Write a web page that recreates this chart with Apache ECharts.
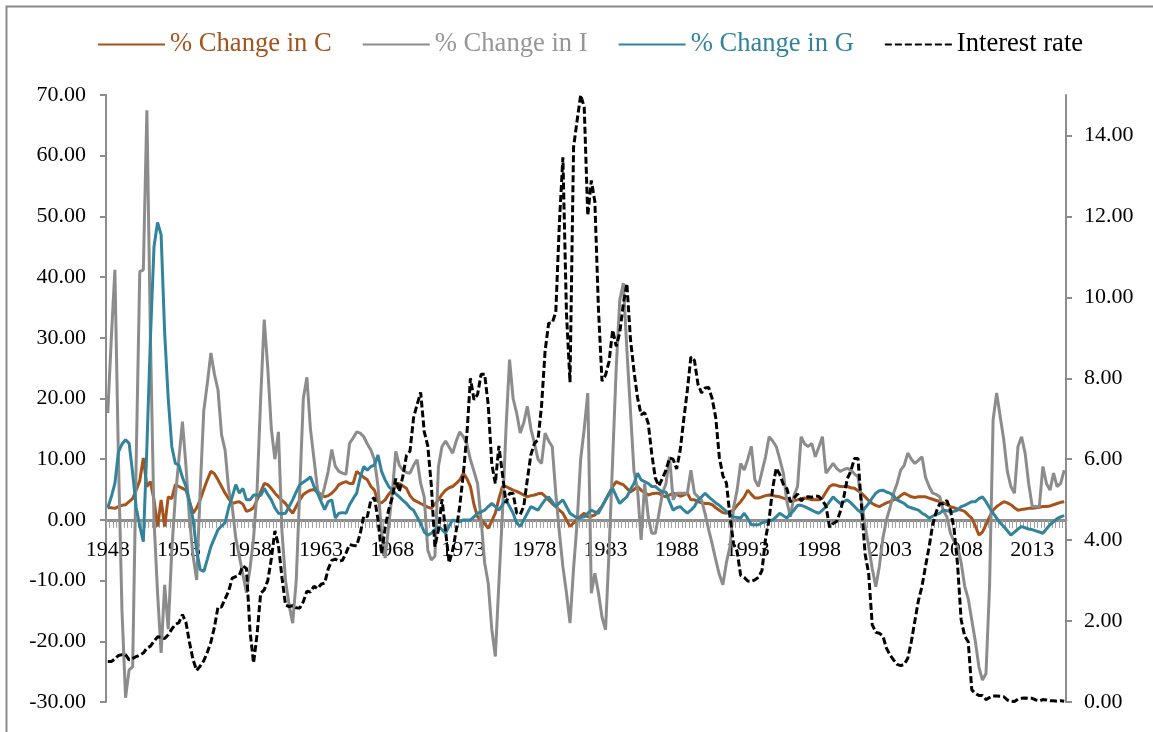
<!DOCTYPE html>
<html>
<head>
<meta charset="utf-8">
<script src="https://cdn.jsdelivr.net/npm/echarts@6/dist/echarts.min.js"></script>
<style>
html,body{margin:0;padding:0;background:#fff;}
#chart{width:1153px;height:732px;}
</style>
</head>
<body>
<div id="chart"></div>
<script>
const startYear = 1948;
const nQuarters = 270;
const tickYears = ['1948','1953','1958','1963','1968','1973','1978','1983','1988','1993','1998','2003','2008','2013'];
const leftRange = [-30, 70, 10];
const rightRange = [0, 15, 2];

const changeC = [
2.0,2.0,1.9,2.2,2.4,2.5,3.0,3.5,4.9,6.5,10.2,5.5,6.3,3.3,-1.1,3.3,-1.1,3.8,3.5,5.8,
5.5,5.2,4.9,3.0,1.1,2.0,3.3,5.0,6.6,8.0,7.6,6.6,5.5,4.4,3.5,2.7,2.9,3.0,2.6,1.4,
1.6,2.0,3.3,4.6,6.0,5.8,5.2,4.4,3.8,3.2,2.7,1.8,1.1,2.2,3.3,4.2,4.6,4.9,5.0,4.6,
4.2,3.8,4.0,4.4,5.0,5.8,6.1,6.3,6.0,6.0,8.0,7.5,7.0,6.6,5.5,4.9,3.0,2.8,3.3,4.2,
4.9,5.5,6.0,5.6,5.2,4.0,3.3,3.0,2.7,2.4,2.1,1.9,2.6,3.3,4.2,4.9,5.3,5.5,6.0,6.6,
7.7,6.8,5.5,2.5,0.5,0.0,-0.6,-1.4,-0.2,1.1,3.5,5.5,5.5,5.2,4.9,4.7,4.4,4.1,3.8,4.0,
4.1,4.3,4.4,3.9,3.3,2.7,2.2,1.6,1.1,0.0,-1.1,-0.5,0.0,0.6,1.1,0.5,0.6,0.8,1.5,2.2,
3.3,4.4,5.5,6.3,6.0,5.8,5.2,4.6,5.0,5.5,4.9,4.5,4.1,4.3,4.4,4.4,4.0,3.8,4.1,4.4,
4.2,3.9,4.1,4.4,3.3,3.3,3.0,2.8,2.7,2.7,2.5,2.0,1.6,1.2,1.1,1.4,1.6,2.4,3.0,3.8,
4.9,4.2,3.6,3.6,3.8,4.0,4.1,4.0,3.9,3.8,3.6,3.4,3.0,3.2,3.3,3.5,3.6,3.5,3.3,3.3,
3.3,3.6,4.6,5.5,5.8,5.7,5.5,5.5,5.5,5.3,5.2,4.8,4.4,3.8,3.2,2.7,2.4,2.2,2.5,2.8,
3.0,3.3,3.5,4.0,4.4,4.1,3.8,3.7,3.8,3.8,3.8,3.6,3.4,3.2,3.0,2.8,2.5,2.2,2.0,1.8,
1.6,1.4,0.8,0.3,-1.0,-2.5,-2.0,-0.8,0.5,1.6,2.2,2.6,3.0,2.8,2.5,2.0,1.6,1.7,1.8,1.9,
1.9,2.0,2.1,2.2,2.2,2.3,2.5,2.7,2.9,3.0
];

const changeI = [
17.6,30,41.2,10,-15,-29.3,-24.7,-24.2,10,40.9,41.2,67.5,30,0,-12,-21.9,-10.7,-18,-5,3.8,
10,16.2,8.8,0,-6,-9.9,5,18,22.5,27.5,24,21.4,14,11.5,5,2.2,-3,-6,-9,-12,
-8,-3,5,20,33,25,15,10,14.5,-2,-10,-14,-17,-10,5,20,23.5,15,10,5,
3.3,5.5,8,11.6,8.8,8,7.7,7.5,12.6,13.5,14.5,14.3,13.7,12.5,11.5,9.9,5.5,-2,-6.3,-1,
4.4,11.3,9,8.2,7.8,7.7,9,9.9,6,3.8,-5,-6.6,-6,8.8,12.1,13,12,11,13,14.5,
13.7,12.5,9.9,8,6,0,-7.1,-10.4,-18,-22.5,-10.4,1.1,15,26.4,20,17.6,14.3,16,18.7,15,
12.6,10,9.3,14.3,13,12.1,4.4,-2,-7.7,-12,-17,-8,-0.5,10,15,20.9,-12.1,-8.8,-12,-16,
-18.1,-5,10,25,36.2,39,28,18,8,5,-3.3,6,0.5,-2.2,-2.2,1,4.4,6,10.4,3.3,
4.4,4.4,4.4,4.4,8.2,4.4,3.8,3.3,1,-1.6,-4,-6.6,-9,-10.7,-7,-4.4,2,4.9,9.3,8.2,
10,12.1,6.6,5.5,8,10.4,13.7,13,12.1,10,7.7,3,0.5,4,5.5,13.7,12.5,12.1,12.6,10.4,
12,13.7,7.7,8.5,9.3,8.5,8.0,8.3,8.5,8.2,7.6,7.1,3,-1,-4.4,-8,-11,-7.7,-3,0,
2,4.4,6,8.2,9,11,10,9.3,9.8,10.4,7,5.5,4.4,4.2,3.8,1.5,0.5,-2.2,-3.5,-4.4,
-7,-10.9,-13,-16.5,-20,-24.2,-26.4,-25.3,-10.9,16.5,20.9,17,13.2,8,5.5,4.4,12.1,13.7,11,6,
2.2,2.2,2.2,8.8,6,4.9,7.7,5.5,6,8.2
];

const changeG = [
2.0,3.8,6.0,11.2,12.5,13.2,12.6,7.7,2.0,-1.0,-3.6,12.0,30.0,45.0,49.0,47.0,30.8,20.0,12.1,9.3,
9.0,7.0,5.5,3.0,0.0,-5.0,-8.2,-8.5,-6.5,-4.4,-3.0,-1.6,-1.0,-0.5,2.0,3.8,5.8,4.4,5.2,3.3,
3.3,4.1,4.1,4.0,5.2,4.2,3.3,2.0,1.1,1.0,1.1,2.2,3.3,4.6,5.8,6.2,6.6,7.1,5.5,4.4,
3.0,1.7,3.0,3.3,0.3,1.1,1.2,1.1,2.5,3.5,4.4,7.0,8.8,8.2,8.8,9.0,10.7,8.0,6.6,5.5,
4.9,4.3,3.8,3.2,2.7,2.0,1.6,0.5,-0.6,-2.0,-2.5,-2.2,-1.6,-1.1,-1.6,-2.2,-1.0,0.0,-0.2,-0.3,
0.0,0.0,0.0,0.5,1.1,1.3,1.6,2.2,2.7,2.2,1.6,2.5,3.3,2.2,1.1,-0.5,-1.1,0.0,1.1,2.2,
1.9,1.6,2.5,3.3,3.8,3.0,2.2,2.8,3.3,2.2,1.1,0.7,0.3,0.4,0.5,1.1,1.6,1.3,1.1,2.2,
3.3,4.3,5.2,3.9,2.7,3.3,3.8,5.0,6.0,7.7,6.6,6.3,6.0,5.5,5.5,5.0,4.6,4.6,3.0,1.6,
2.0,2.2,1.6,1.1,1.6,2.2,3.3,3.8,4.4,3.8,3.3,2.8,2.4,1.9,1.4,0.9,0.5,0.4,0.3,1.1,
0.2,-0.8,-0.8,-0.8,-0.5,-0.3,-0.1,0.0,0.5,1.1,0.7,0.3,1.0,1.6,2.4,2.4,2.2,1.9,1.6,1.3,
1.1,1.6,2.2,3.0,3.8,3.2,2.7,3.0,3.3,2.8,2.2,1.6,1.1,2.0,2.7,3.6,4.4,4.8,4.9,4.6,
4.4,4.0,3.3,3.0,2.7,2.2,2.0,1.8,1.6,1.1,0.8,0.3,0.6,0.9,1.1,1.6,1.5,1.4,1.4,1.6,
2.2,2.4,2.7,3.0,3.0,3.5,3.8,3.0,2.0,1.1,0.3,-0.5,-1.1,-1.8,-2.5,-2.0,-1.5,-1.1,-1.3,-1.5,
-1.6,-1.8,-2.0,-2.2,-1.5,-0.8,-0.3,0.2,0.5,0.7
];

const interestRate = [
1.00,1.00,1.06,1.15, 1.17,1.17,1.04,1.08, 1.12,1.16,1.21,1.33, 1.38,1.50,1.61,1.60,
1.57,1.66,1.80,1.92, 1.96,2.16,1.96,1.46, 1.04,0.78,0.89,1.02, 1.23,1.48,1.85,2.35,
2.35,2.55,2.74,3.06, 3.10,3.14,3.36,3.30, 1.76,0.96,1.68,2.69, 2.77,3.00,3.54,4.23,
3.87,3.07,2.39,2.36, 2.38,2.33,2.32,2.48, 2.74,2.72,2.86,2.80, 2.91,2.94,3.29,3.50,
3.53,3.48,3.50,3.68, 3.89,3.87,3.86,4.16, 4.60,4.58,4.99,5.05, 4.51,3.66,4.30,4.75,
5.05,5.52,5.20,5.58, 6.09,6.20,7.02,7.35, 7.65,6.68,6.33,5.35, 3.84,4.25,5.01,4.23,
3.44,3.75,4.24,4.85, 5.64,6.61,8.00,7.47, 7.60,8.10,8.10,7.34, 5.88,5.40,6.33,5.63,
4.92,5.16,5.15,4.67, 4.63,4.84,5.50,6.11, 6.39,6.48,7.32,8.68, 9.36,9.37,9.63,11.80,
13.46,9.62,7.90,13.71, 14.37,15.00,14.70,12.02, 12.89,12.36,9.71,7.93, 8.08,8.42,9.19,8.79,
9.13,9.84,10.34,8.97, 8.18,7.52,7.10,7.15, 6.89,6.13,5.53,5.34, 5.53,5.73,6.03,6.00,
5.76,6.23,6.99,7.70, 8.53,8.44,7.85,7.64, 7.76,7.77,7.49,7.02, 6.05,5.59,5.41,4.58,
3.91,3.72,3.13,3.08, 2.99,2.98,3.02,3.08, 3.25,4.04,4.51,5.28, 5.78,5.62,5.38,5.27,
4.95,5.04,5.14,4.97, 5.06,5.07,5.06,5.09, 5.08,4.98,4.84,4.32, 4.41,4.46,4.70,5.06,
5.52,5.71,6.02,6.02, 4.82,3.66,3.17,1.91, 1.72,1.70,1.63,1.33, 1.16,1.04,0.93,0.90,
0.93,1.08,1.49,2.01, 2.51,2.86,3.36,3.83, 4.38,4.70,4.90,4.90, 4.98,4.74,4.30,3.39,
2.04,1.63,1.49,0.30, 0.21,0.16,0.16,0.06, 0.11,0.15,0.15,0.14, 0.13,0.05,0.02,0.01,
0.07,0.09,0.10,0.09, 0.09,0.05,0.03,0.06, 0.05,0.03,0.03,0.02, 0.03,0.02
];

const seriesNames = ['% Change in C','% Change in I','% Change in G','Interest rate'];
const seriesColors = ['#A5521B','#8C8C8C','#31849B','#000000'];
const legendTextColors = ['#A5521B','#969696','#31849B','#000000'];

const categories = [];
for (let k = 0; k < nQuarters; k++) {
  categories.push((startYear + Math.floor(k / 4)) + 'Q' + (k % 4 + 1));
}

const FONT = '"Liberation Serif", "Times New Roman", serif';
const W = 1153, H = 732;
const grid = {left: 106, right: 87, top: 95, bottom: 30};
const plotH = H - grid.top - grid.bottom;
const zeroOffset = -plotH * (0 - leftRange[0]) / (leftRange[1] - leftRange[0]);

const chart = echarts.init(document.getElementById('chart'), null, {renderer: 'canvas', width: W, height: H});

function lineSeries(idx, data, yIndex, dashed) {
  return {
    name: seriesNames[idx],
    type: 'line',
    yAxisIndex: yIndex,
    data: data,
    symbol: 'none',
    symbolSize: 0,
    showSymbol: false,
    smooth: false,
    animation: false,
    z: dashed ? 5 : 3,
    lineStyle: {color: seriesColors[idx], width: 3, type: dashed ? [7, 3] : 'solid', cap: 'butt'},
    itemStyle: {color: seriesColors[idx]}
  };
}

chart.setOption({
  animation: false,
  backgroundColor: '#ffffff',
  graphic: [{
    type: 'rect', left: 4, top: 4, z: 0, silent: true,
    shape: {width: 1170, height: 740},
    style: {fill: 'none', stroke: '#8a8a8a', lineWidth: 2}
  }],
  legend: {
    top: 26, left: 92, itemGap: 30, itemWidth: 67, itemHeight: 14,
    itemStyle: {color: 'rgba(0,0,0,0)', borderColor: 'rgba(0,0,0,0)', borderWidth: 0},
    data: seriesNames.map((n, i) => ({name: n, textStyle: {color: legendTextColors[i]}})),
    textStyle: {fontFamily: FONT, fontSize: 26.6}
  },
  grid: {left: grid.left, right: grid.right, top: grid.top, bottom: grid.bottom, containLabel: false},
  xAxis: {
    type: 'category', data: categories, boundaryGap: true, position: 'bottom', offset: zeroOffset,
    axisLine: {onZero: false, lineStyle: {color: '#8C8C8C', width: 3}},
    axisTick: {show: true, interval: 0, length: 8, lineStyle: {color: '#A0A0A0', width: 1}},
    axisLabel: {interval: 19, margin: 19, color: '#000', fontFamily: FONT, fontSize: 22,
      formatter: (v) => v.slice(0, 4)},
    splitLine: {show: false}
  },
  yAxis: [{
    type: 'value', min: leftRange[0], max: leftRange[1], interval: leftRange[2], position: 'left',
    axisLine: {show: true, lineStyle: {color: '#8C8C8C', width: 2}},
    axisTick: {show: true, inside: false, length: 6, lineStyle: {color: '#8C8C8C', width: 2}},
    axisLabel: {margin: 20, color: '#000', fontFamily: FONT, fontSize: 22, formatter: (v) => v.toFixed(2)},
    splitLine: {show: false}
  }, {
    type: 'value', min: rightRange[0], max: rightRange[1], interval: rightRange[2], position: 'right',
    axisLine: {show: true, lineStyle: {color: '#8C8C8C', width: 2}},
    axisTick: {show: true, inside: false, length: 6, lineStyle: {color: '#8C8C8C', width: 2}},
    axisLabel: {margin: 18, color: '#000', fontFamily: FONT, fontSize: 22, showMaxLabel: false,
      formatter: (v) => (v > 14 ? '' : v.toFixed(2))},
    splitLine: {show: false}
  }],
  series: [
    lineSeries(0, changeC, 0, false),
    lineSeries(1, changeI, 0, false),
    lineSeries(2, changeG, 0, false),
    lineSeries(3, interestRate, 1, true)
  ]
});
</script>
</body>
</html>
